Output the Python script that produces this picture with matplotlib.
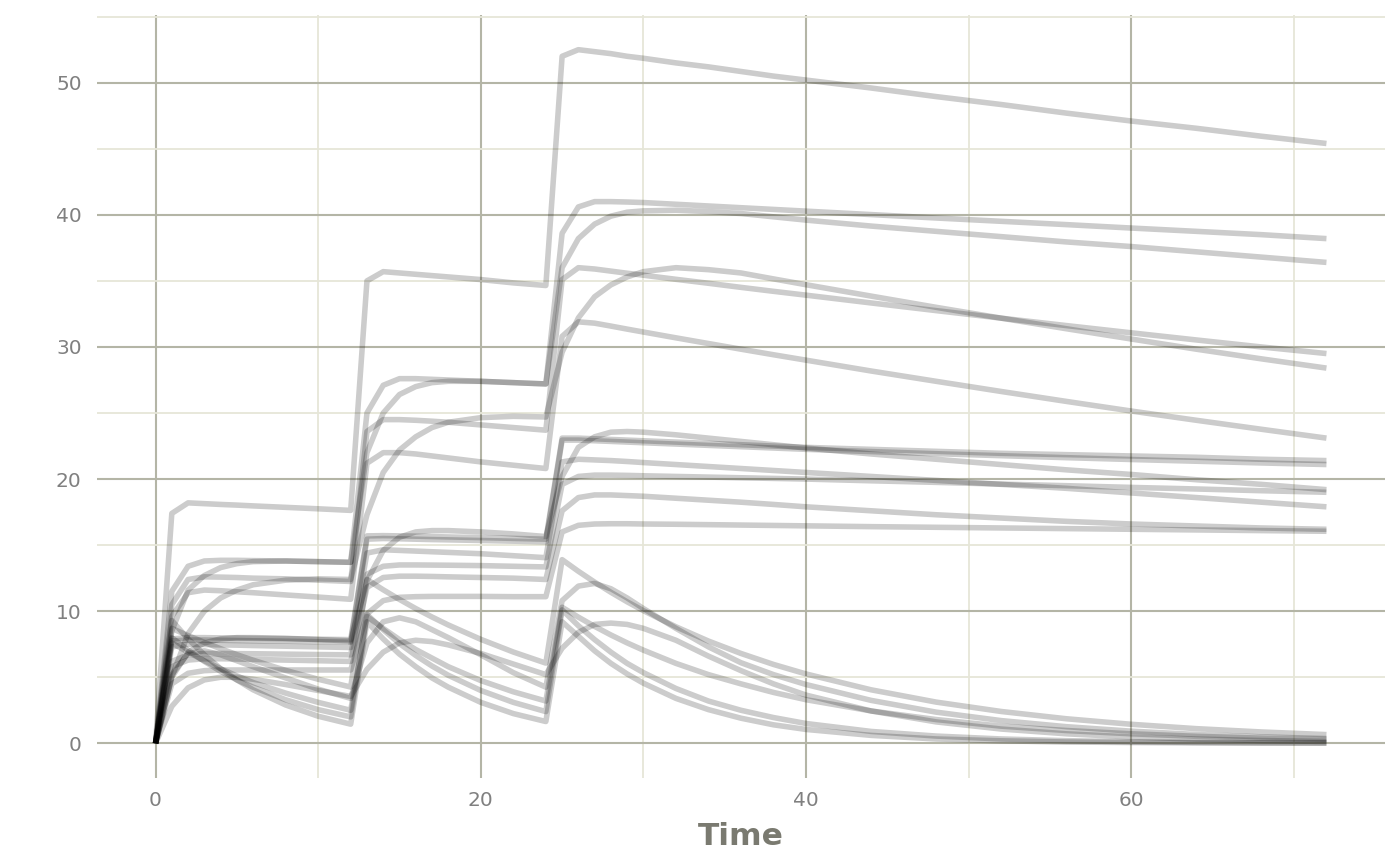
import matplotlib
matplotlib.use("Agg")
import matplotlib.pyplot as plt

# Sampling times (h)
time = [0, 1, 2, 3, 4, 5, 6, 8, 10, 12,
        13, 14, 15, 16, 17, 18, 20, 22, 24,
        25, 26, 27, 28, 29, 30, 32, 34, 36, 38, 40, 44, 48, 52, 56, 60, 64, 68, 72]

# Concentration profiles (one list per subject)
subj_01 = [0, 17.4, 18.2, 18.14, 18.08, 18.03, 17.97, 17.86, 17.75, 17.63,
           35.0, 35.7, 35.6, 35.5, 35.4, 35.3, 35.1, 34.85, 34.65,
           52.0, 52.5, 52.35, 52.2, 52.0, 51.85, 51.5, 51.2, 50.85, 50.5, 50.2, 49.6, 48.95, 48.35, 47.7, 47.1, 46.55, 45.95, 45.4]
subj_02 = [0, 11.5, 13.4, 13.8, 13.85, 13.85, 13.83, 13.8, 13.75, 13.7,
           25.0, 27.1, 27.6, 27.6, 27.55, 27.5, 27.4, 27.3, 27.2,
           38.6, 40.6, 41.0, 41.0, 40.97, 40.93, 40.8, 40.67, 40.54, 40.41, 40.28, 40.02, 39.76, 39.51, 39.26, 39.0, 38.75, 38.5, 38.2]
subj_03 = [0, 8.5, 11.6, 12.7, 13.3, 13.6, 13.75, 13.8, 13.75, 13.7,
           22.0, 25.0, 26.4, 27.0, 27.3, 27.4, 27.4, 27.3, 27.2,
           36.0, 38.2, 39.3, 39.9, 40.2, 40.3, 40.35, 40.25, 40.1, 39.85, 39.6, 39.15, 38.75, 38.35, 37.95, 37.6, 37.2, 36.8, 36.4]
subj_04 = [0, 10.5, 12.4, 12.6, 12.58, 12.55, 12.5, 12.45, 12.35, 12.25,
           23.6, 24.5, 24.5, 24.45, 24.38, 24.3, 24.1, 23.9, 23.7,
           35.1, 36.0, 35.9, 35.74, 35.58, 35.43, 35.12, 34.82, 34.51, 34.21, 33.92, 33.33, 32.75, 32.18, 31.62, 31.07, 30.53, 30.0, 29.5]
subj_05 = [0, 9.6, 11.4, 11.6, 11.55, 11.47, 11.4, 11.23, 11.07, 10.9,
           21.2, 22.0, 22.0, 21.9, 21.75, 21.6, 21.3, 21.05, 20.8,
           30.8, 31.9, 31.8, 31.58, 31.35, 31.13, 30.69, 30.26, 29.83, 29.41, 29.0, 28.18, 27.4, 26.63, 25.88, 25.15, 24.45, 23.77, 23.1]
subj_06 = [0, 5.0, 8.3, 10.0, 11.0, 11.6, 12.0, 12.35, 12.45, 12.4,
           17.3, 20.5, 22.2, 23.2, 23.9, 24.3, 24.65, 24.75, 24.7,
           29.6, 32.2, 33.8, 34.7, 35.3, 35.7, 36.0, 35.85, 35.6, 35.15, 34.71, 33.85, 33.0, 32.18, 31.38, 30.6, 29.83, 29.1, 28.4]
subj_07 = [0, 7.9, 8.0, 8.0, 7.98, 7.97, 7.95, 7.92, 7.88, 7.85,
           15.7, 15.72, 15.7, 15.68, 15.65, 15.62, 15.57, 15.51, 15.45,
           23.1, 23.1, 23.05, 23.0, 22.95, 22.9, 22.8, 22.7, 22.6, 22.5, 22.4, 22.25, 22.1, 21.95, 21.85, 21.75, 21.65, 21.5, 21.4]
subj_08 = [0, 7.75, 7.82, 7.82, 7.8, 7.78, 7.76, 7.73, 7.69, 7.65,
           15.45, 15.5, 15.48, 15.45, 15.42, 15.4, 15.35, 15.3, 15.25,
           22.95, 22.95, 22.9, 22.85, 22.8, 22.75, 22.65, 22.55, 22.45, 22.35, 22.25, 22.08, 21.92, 21.77, 21.62, 21.48, 21.35, 21.22, 21.1]
subj_09 = [0, 5.0, 6.9, 7.6, 7.9, 8.0, 8.0, 7.95, 7.85, 7.75,
           12.3, 14.6, 15.6, 16.0, 16.1, 16.1, 16.0, 15.85, 15.65,
           20.2, 22.4, 23.2, 23.55, 23.6, 23.55, 23.35, 23.1, 22.85, 22.6, 22.35, 21.9, 21.5, 21.1, 20.7, 20.35, 19.95, 19.6, 19.2]
subj_10 = [0, 7.3, 7.5, 7.48, 7.45, 7.43, 7.4, 7.35, 7.3, 7.25,
           14.4, 14.65, 14.6, 14.55, 14.5, 14.45, 14.35, 14.2, 14.05,
           21.3, 21.5, 21.45, 21.4, 21.33, 21.25, 21.1, 20.95, 20.8, 20.65, 20.5, 20.2, 19.9, 19.6, 19.3, 18.95, 18.6, 18.25, 17.9]
subj_11 = [0, 6.2, 6.7, 6.8, 6.8, 6.79, 6.78, 6.75, 6.72, 6.7,
           12.8, 13.4, 13.5, 13.5, 13.49, 13.48, 13.45, 13.4, 13.35,
           19.6, 20.2, 20.3, 20.3, 20.28, 20.25, 20.2, 20.15, 20.1, 20.05, 20.0, 19.87, 19.75, 19.62, 19.5, 19.37, 19.25, 19.12, 19.0]
subj_12 = [0, 5.8, 6.3, 6.4, 6.4, 6.38, 6.35, 6.3, 6.25, 6.2,
           11.8, 12.55, 12.65, 12.65, 12.63, 12.6, 12.55, 12.5, 12.4,
           17.6, 18.6, 18.8, 18.8, 18.75, 18.7, 18.55, 18.4, 18.25, 18.08, 17.9, 17.6, 17.3, 17.05, 16.8, 16.6, 16.45, 16.3, 16.2]
subj_13 = [0, 4.5, 5.3, 5.5, 5.55, 5.55, 5.55, 5.55, 5.55, 5.55,
           9.8, 10.8, 11.05, 11.1, 11.12, 11.12, 11.12, 11.1, 11.1,
           16.0, 16.5, 16.6, 16.62, 16.62, 16.6, 16.58, 16.55, 16.52, 16.49, 16.46, 16.4, 16.35, 16.3, 16.25, 16.2, 16.15, 16.1, 16.05]
subj_14 = [0, 8.7, 8.15, 7.64, 7.16, 6.71, 6.29, 5.52, 4.85, 4.26,
           12.4, 11.62, 10.89, 10.2, 9.56, 8.96, 7.87, 6.91, 6.07,
           13.9, 13.02, 12.2, 11.43, 10.71, 10.04, 8.82, 7.74, 6.8, 5.97, 5.25, 4.05, 3.12, 2.41, 1.86, 1.44, 1.11, 0.86, 0.66]
subj_15 = [0, 5.2, 6.8, 7.0, 6.7, 6.25, 5.8, 4.95, 4.1, 3.4,
           7.6, 9.2, 9.5, 9.2, 8.6, 8.0, 6.7, 5.35, 4.25,
           10.8, 11.9, 12.1, 11.7, 11.0, 10.2, 8.7, 7.3, 6.1, 5.2, 4.45, 3.25, 2.36, 1.72, 1.26, 0.92, 0.67, 0.49, 0.36]
subj_16 = [0, 2.8, 4.2, 4.8, 5.0, 5.0, 4.85, 4.45, 4.0, 3.55,
           5.6, 6.9, 7.6, 7.8, 7.7, 7.45, 6.8, 6.0, 5.2,
           7.2, 8.4, 9.0, 9.1, 9.0, 8.7, 7.8, 6.6, 5.5, 4.5, 3.65, 2.45, 1.62, 1.08, 0.72, 0.48, 0.32, 0.21, 0.14]
subj_17 = [0, 7.6, 6.9, 6.25, 5.65, 5.1, 4.6, 3.8, 3.1, 2.5,
           9.6, 8.7, 7.85, 7.1, 6.45, 5.8, 4.75, 3.9, 3.2,
           10.3, 9.55, 8.85, 8.2, 7.6, 7.05, 6.05, 5.2, 4.5, 3.85, 3.3, 2.45, 1.8, 1.3, 0.97, 0.72, 0.53, 0.39, 0.29]
subj_18 = [0, 8.0, 7.05, 6.2, 5.45, 4.8, 4.25, 3.3, 2.55, 2.0,
           9.75, 8.6, 7.55, 6.65, 5.85, 5.15, 4.0, 3.1, 2.4,
           10.1, 8.9, 7.85, 6.9, 6.05, 5.35, 4.15, 3.2, 2.5, 1.95, 1.5, 0.9, 0.55, 0.33, 0.2, 0.12, 0.07, 0.04, 0.03]
subj_19 = [0, 9.3, 7.9, 6.7, 5.65, 4.8, 4.05, 2.9, 2.05, 1.45,
           9.2, 7.9, 6.75, 5.8, 4.95, 4.25, 3.1, 2.25, 1.65,
           9.2, 8.1, 7.0, 6.05, 5.25, 4.55, 3.4, 2.55, 1.9, 1.4, 1.05, 0.6, 0.33, 0.19, 0.1, 0.06, 0.03, 0.02, 0.01]

subjects = [subj_01, subj_02, subj_03, subj_04, subj_05, subj_06, subj_07,
            subj_08, subj_09, subj_10, subj_11, subj_12, subj_13, subj_14,
            subj_15, subj_16, subj_17, subj_18, subj_19]

x_major = [0, 20, 40, 60]
x_minor = [10, 30, 50, 70]
y_major = [0, 10, 20, 30, 40, 50]
y_minor = [5, 15, 25, 35, 45, 55]

W, H = 1400, 866
fig = plt.figure(figsize=(W / 100, H / 100), dpi=100)
fig.patch.set_facecolor("white")
ax = fig.add_axes([97 / W, 1 - 778 / H, (1385 - 97) / W, (778 - 15) / H])
ax.set_facecolor("white")

for conc in subjects:
    ax.plot(time, conc, color="black", alpha=0.2, lw=4.0,
            solid_capstyle="butt", solid_joinstyle="round", zorder=3)

ax.set_xlim(-3.6, 75.6)
ax.set_ylim(-2.625, 55.125)
ax.set_xticks(x_major)
ax.set_xticks(x_minor, minor=True)
ax.set_yticks(y_major)
ax.set_yticks(y_minor, minor=True)
ax.set_axisbelow(True)
ax.grid(which="major", color="#b4b5a6", lw=1.5, zorder=0)
ax.grid(which="minor", color="#e6e6d8", lw=1.3, zorder=0)
for s in ax.spines.values():
    s.set_visible(False)
ax.tick_params(which="both", length=0)
ax.tick_params(axis="y", labelsize=14.5, labelcolor="#808080", pad=11)
ax.tick_params(axis="x", labelsize=14.5, labelcolor="#808080", pad=9)
ax.set_xlabel("Time", fontsize=22.5, fontweight="bold", color="#7a7a70", labelpad=9)

fig.savefig("out.png", dpi=100)
